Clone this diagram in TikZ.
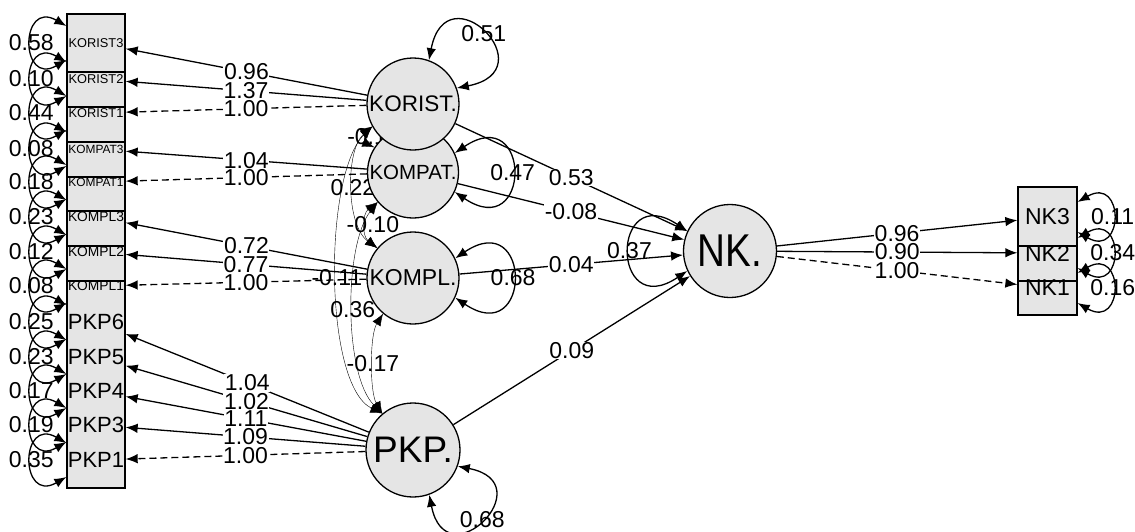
\documentclass[tikz,border=0pt]{standalone}
\usepackage{fontspec}
\setmainfont{Liberation Sans}
\usetikzlibrary{arrows.meta,backgrounds}

\begin{document}
\begin{tikzpicture}[x=1pt, y=1pt, line width=1.3pt, >={Latex[length=12pt,width=9.5pt]},
		lat/.style={circle, draw, fill=black!10, inner sep=0pt},
		ind/.style={minimum width=58pt, minimum height=30pt, inner sep=0pt},
		val/.style={font=\fontsize{23}{23}\selectfont, inner sep=0pt},
		lbl/.style={val, fill=white, inner sep=0.6pt},
		fixload/.style={->, dash pattern=on 7pt off 4pt}]
			\useasboundingbox (0,0) rectangle (1135,-531);
			
			\filldraw[fill=black!10] (67,-14) rectangle (125,-488);
			\foreach \y in {72,107,142,177,211,246,281}
				\draw (67,-\y) -- (125,-\y);
			\filldraw[fill=black!10] (1018,-187) rectangle (1077,-315);
			\draw (1018,-246) -- (1077,-246);
			\draw (1018,-281) -- (1077,-281);
			
			\node[ind, font=\fontsize{12.8}{13}\selectfont] (kor3) at (96,-43) {KORIST3};
			\node[ind, font=\fontsize{12.8}{13}\selectfont] (kor2) at (96,-79) {KORIST2};
			\node[ind, font=\fontsize{12.8}{13}\selectfont] (kor1) at (96,-113) {KORIST1};
			\node[ind, font=\fontsize{11.9}{12}\selectfont] (kom3) at (96,-149) {KOMPAT3};
			\node[ind, font=\fontsize{11.9}{12}\selectfont] (kom1) at (96,-182) {KOMPAT1};
			\node[ind, font=\fontsize{13.8}{14}\selectfont] (kpl3) at (96,-217) {KOMPL3};
			\node[ind, font=\fontsize{13.8}{14}\selectfont] (kpl2) at (96,-252) {KOMPL2};
			\node[ind, font=\fontsize{13.8}{14}\selectfont] (kpl1) at (96,-286) {KOMPL1};
			\node[ind, font=\fontsize{22}{22}\selectfont] (pkp6) at (96,-322) {PKP6};
			\node[ind, font=\fontsize{22}{22}\selectfont] (pkp5) at (96,-357) {PKP5};
			\node[ind, font=\fontsize{22}{22}\selectfont] (pkp4) at (96,-391) {PKP4};
			\node[ind, font=\fontsize{22}{22}\selectfont] (pkp3) at (96,-425) {PKP3};
			\node[ind, font=\fontsize{22}{22}\selectfont] (pkp1) at (96,-460) {PKP1};
			\node[ind, minimum width=59pt, font=\fontsize{23}{23}\selectfont] (nk3) at (1047.5,-217) {NK3};
			\node[ind, minimum width=59pt, font=\fontsize{23}{23}\selectfont] (nk2) at (1047.5,-253) {NK2};
			\node[ind, minimum width=59pt, font=\fontsize{23}{23}\selectfont] (nk1) at (1047.5,-288) {NK1};
			
			\node[lat, minimum size=91pt, font=\fontsize{20.5}{21}\selectfont] (kompat) at (413,-172.5) {KOMPAT.};
			\node[lat, minimum size=92pt, font=\fontsize{22.5}{23}\selectfont] (korist) at (413,-104) {KORIST.};
			\node[lat, minimum size=92pt, font=\fontsize{23}{23}\selectfont] (kompl) at (413,-278) {KOMPL.};
			\node[lat, minimum size=94pt, font=\fontsize{37}{37}\selectfont] (pkp) at (413,-450) {PKP.};
			\node[lat, minimum size=93pt, font=\fontsize{46}{46}\selectfont] (nk) at (730,-251) {\scalebox{0.84}[1]{NK.}};
			
			\draw[->] (korist) -- (kor3) node[lbl, midway] {0.96};
			\draw[->] (korist) -- (kor2) node[lbl, midway] {1.37};
			\draw[fixload] (korist) -- (kor1) node[lbl, midway] {1.00};
			\draw[->] (kompat) -- (kom3) node[lbl, midway] {1.04};
			\draw[fixload] (kompat) -- (kom1) node[lbl, midway] {1.00};
			\draw[fixload] (kompl) -- (kpl1) node[lbl, midway] {1.00};
			\draw[->] (kompl) -- (kpl2) node[lbl, midway] {0.77};
			\draw[->] (kompl) -- (kpl3) node[lbl, midway] {0.72};
			\draw[fixload] (pkp) -- (pkp1) node[lbl, midway] {1.00};
			\draw[->] (pkp) -- (pkp3) node[lbl, midway] {1.09};
			\draw[->] (pkp) -- (pkp4) node[lbl, midway] {1.11};
			\draw[->] (pkp) -- (pkp5) node[lbl, midway] {1.02};
			\draw[->] (pkp) -- (pkp6) node[lbl, midway] {1.04};
			
			\draw[->] (korist) -- (nk) node[lbl, midway] {0.53};
			\draw[->] (kompat) -- (nk) node[lbl, midway] {-0.08};
			\draw[->] (kompl) -- (nk) node[lbl, midway] {0.04};
			\draw[->] (pkp) -- (nk) node[lbl, midway] {0.09};
			
			\draw[fixload] (nk) -- (nk1) node[lbl, midway] {1.00};
			\draw[->] (nk) -- (nk2) node[lbl, midway] {0.90};
			\draw[->] (nk) -- (nk3) node[lbl, midway] {0.96};
			
			\draw[<->] ([yshift=17pt]kor3.west) .. controls +(150:54) and +(210:54) .. ([yshift=-17pt]kor3.west) node[val, midway] {0.58};
			\draw[<->] ([yshift=17pt]kor2.west) .. controls +(150:54) and +(210:54) .. ([yshift=-17pt]kor2.west) node[val, midway] {0.10};
			\draw[<->] ([yshift=17pt]kor1.west) .. controls +(150:54) and +(210:54) .. ([yshift=-17pt]kor1.west) node[val, midway] {0.44};
			\draw[<->] ([yshift=17pt]kom3.west) .. controls +(150:54) and +(210:54) .. ([yshift=-17pt]kom3.west) node[val, midway] {0.08};
			\draw[<->] ([yshift=17pt]kom1.west) .. controls +(150:54) and +(210:54) .. ([yshift=-17pt]kom1.west) node[val, midway] {0.18};
			\draw[<->] ([yshift=17pt]kpl3.west) .. controls +(150:54) and +(210:54) .. ([yshift=-17pt]kpl3.west) node[val, midway] {0.23};
			\draw[<->] ([yshift=17pt]kpl2.west) .. controls +(150:54) and +(210:54) .. ([yshift=-17pt]kpl2.west) node[val, midway] {0.12};
			\draw[<->] ([yshift=17pt]kpl1.west) .. controls +(150:54) and +(210:54) .. ([yshift=-17pt]kpl1.west) node[val, midway] {0.08};
			\draw[<->] ([yshift=17pt]pkp6.west) .. controls +(150:54) and +(210:54) .. ([yshift=-17pt]pkp6.west) node[val, midway] {0.25};
			\draw[<->] ([yshift=17pt]pkp5.west) .. controls +(150:54) and +(210:54) .. ([yshift=-17pt]pkp5.west) node[val, midway] {0.23};
			\draw[<->] ([yshift=17pt]pkp4.west) .. controls +(150:54) and +(210:54) .. ([yshift=-17pt]pkp4.west) node[val, midway] {0.17};
			\draw[<->] ([yshift=17pt]pkp3.west) .. controls +(150:54) and +(210:54) .. ([yshift=-17pt]pkp3.west) node[val, midway] {0.19};
			\draw[<->] ([yshift=17pt]pkp1.west) .. controls +(150:54) and +(210:54) .. ([yshift=-17pt]pkp1.west) node[val, midway] {0.35};
			
			\draw[<->] ([yshift=15pt]nk3.east) .. controls +(30:54) and +(-30:54) .. ([yshift=-15pt]nk3.east) node[val, midway] {0.11};
			\draw[<->] ([yshift=15pt]nk2.east) .. controls +(30:54) and +(-30:54) .. ([yshift=-15pt]nk2.east) node[val, midway] {0.34};
			\draw[<->] ([yshift=15pt]nk1.east) .. controls +(30:54) and +(-30:54) .. ([yshift=-15pt]nk1.east) node[val, midway] {0.16};
			
			\draw[<->] (korist.70) .. controls +(79:93) and +(11:93) .. (korist.20) node[val, midway] {0.51};
			\draw[<->] (kompat.25) .. controls +(34:93) and +(-34:93) .. (kompat.335) node[val, midway] {0.47};
			\draw[<->] (kompl.25) .. controls +(34:93) and +(-34:93) .. (kompl.335) node[val, midway] {0.68};
			\draw[<->] (pkp.340) .. controls +(-11:88) and +(-79:88) .. (pkp.290) node[val, midway] {0.68};
			\draw[<->] (nk.205) .. controls +(214:93) and +(146:93) .. (nk.155) node[val, midway] {0.37};
			
			\begin{scope}[on background layer]
				\draw[<->] (korist.209) .. controls (365,-131) and (365,-143) .. (kompat.147) node[val, midway] {-0.1};
				\draw[<->] (korist.209) .. controls (345.6,-150) and (345.6,-225) .. (kompl.140) node[val, midway] {0.22};
				\draw[<->] (korist.209) .. controls (323.4,-175) and (323.4,-385) .. (pkp.130) node[val, midway] {-0.11};
				\draw[<->] (kompat.220) .. controls (343.7,-245) and (343.7,-375) .. (pkp.130) node[val, midway] {0.36};
				\draw[<->] (kompat.220) .. controls (362,-214) and (362,-236) .. (kompl.140) node[val, midway, xshift=7pt] {-0.10};
				\draw[<->] (kompl.230) .. controls (369.6,-335) and (369.6,-392) .. (pkp.130) node[val, midway] {-0.17};
			\end{scope}
		\end{tikzpicture}
\end{document}
